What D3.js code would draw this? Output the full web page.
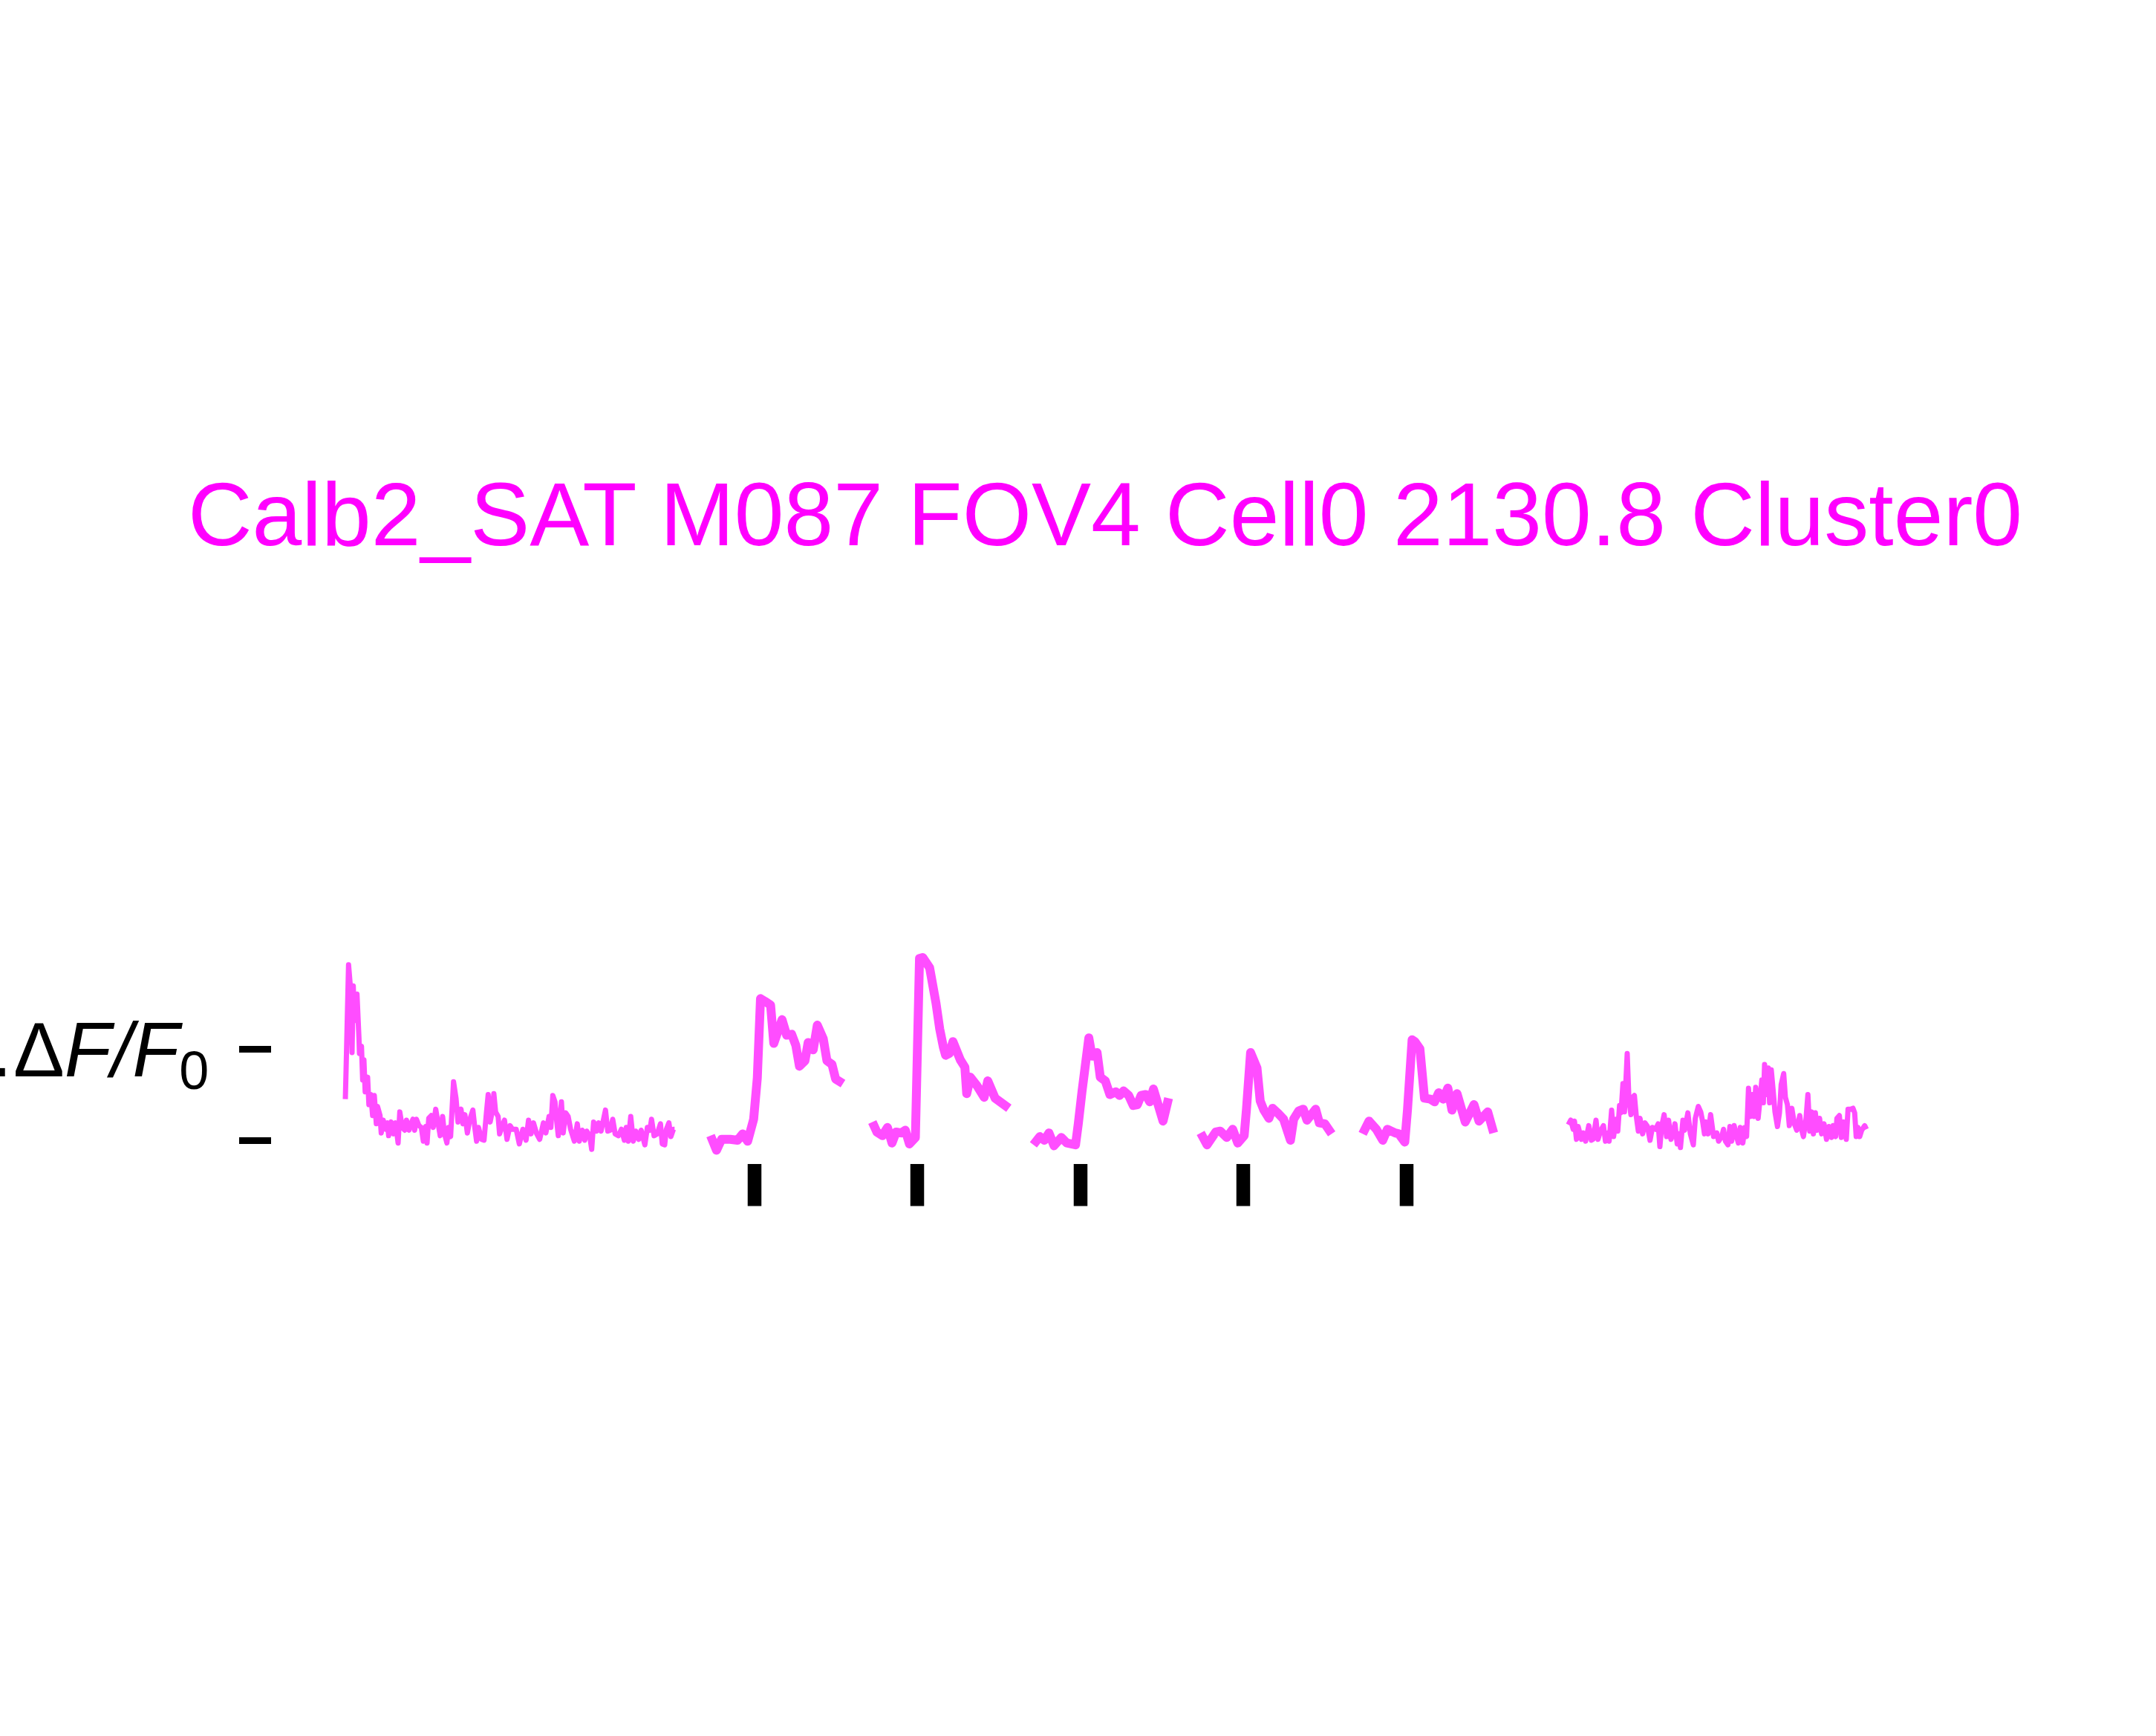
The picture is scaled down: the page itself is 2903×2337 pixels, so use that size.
<!DOCTYPE html>
<html>
<head>
<meta charset="utf-8">
<script src="https://cdn.jsdelivr.net/npm/d3@7"></script>
<style>
	body { margin: 0; background: #fff; }
	svg { display: block; font-family: "Liberation Sans", Arial, sans-serif; }
</style>
</head>
<body>
<svg id="chart" width="2903" height="2337"></svg>
<script>
// trace colour is magenta at ~70% alpha on white
const title = "Calb2_SAT M087 FOV4 Cell0 2130.8 Cluster0"

// spontaneous activity before the stimulus block, [time (s), dF/F0]
const preTrace = [
	[0.000,0.45],[0.016,0.77],[0.070,1.92],[0.125,1.59],[0.146,0.96],[0.173,1.69],[0.199,1.31],[0.254,1.60],
	[0.297,1.12],[0.308,0.95],[0.352,1.03],[0.378,0.66],[0.405,0.88],[0.433,0.53],[0.486,0.69],[0.514,0.39],
	[0.556,0.50],[0.595,0.27],[0.632,0.49],[0.676,0.18],[0.702,0.37],[0.757,0.27],[0.783,0.08],[0.827,0.22],
	[0.880,0.12],[0.919,0.19],[0.945,0.05],[1.000,0.20],[1.053,0.07],[1.097,0.19],[1.151,-0.03],[1.188,0.31],
	[1.243,0.14],[1.297,0.11],[1.334,0.22],[1.389,0.11],[1.431,0.18],[1.475,0.23],[1.512,0.11],[1.551,0.23],
	[1.605,0.16],[1.658,0.14],[1.702,-0.01],[1.755,0.15],[1.783,-0.03],[1.820,0.24],[1.875,0.27],[1.917,0.14],
	[1.972,0.34],[2.026,0.18],[2.070,0.05],[2.123,0.26],[2.160,0.08],[2.216,-0.03],[2.253,0.14],[2.297,0.04],
	[2.361,0.64],[2.415,0.46],[2.459,0.20],[2.524,0.34],[2.566,0.18],[2.609,0.28],[2.663,0.08],[2.718,0.23],
	[2.783,0.33],[2.825,0.14],[2.864,-0.01],[2.906,0.14],[2.971,0.01],[3.026,0.00],[3.079,0.30],[3.117,0.50],
	[3.160,0.20],[3.204,0.31],[3.241,0.51],[3.279,0.31],[3.334,0.26],[3.366,0.07],[3.420,0.15],[3.473,0.22],
	[3.528,0.01],[3.593,0.16],[3.647,0.12],[3.728,0.12],[3.797,-0.04],[3.873,0.12],[3.943,0.00],[3.998,0.22],
	[4.052,0.07],[4.105,0.19],[4.177,0.07],[4.241,0.01],[4.323,0.19],[4.376,0.08],[4.446,0.26],[4.485,0.14],
	[4.527,0.49],[4.575,0.42],[4.608,0.23],[4.647,0.05],[4.716,0.42],[4.754,0.08],[4.809,0.30],[4.862,0.26],
	[4.916,0.12],[4.997,-0.01],[5.062,0.18],[5.105,-0.01],[5.170,0.11],[5.224,0.00],[5.267,0.10],[5.332,0.05],
	[5.376,-0.10],[5.418,0.20],[5.483,0.10],[5.527,0.19],[5.580,0.10],[5.635,0.23],[5.677,0.33],[5.726,0.10],
	[5.781,0.11],[5.835,0.23],[5.888,0.07],[5.960,0.05],[6.024,0.12],[6.089,0.00],[6.131,0.14],[6.175,-0.01],
	[6.228,0.26],[6.284,-0.01],[6.337,0.10],[6.402,0.01],[6.455,0.11],[6.536,-0.05],[6.591,0.14],[6.645,0.11],
	[6.682,0.23],[6.737,0.05],[6.807,0.07],[6.877,0.18],[6.916,-0.04],[6.969,-0.05],[7.006,0.12],[7.061,0.19],
	[7.104,0.04],[7.159,0.12],[7.185,0.12]
]

// stimulus onsets (s) and the five evoked responses, time relative to onset
const stimOnsets = [8.930, 12.480, 16.045, 19.595, 23.160]
const stimDuration = 0.3

const trialTraces = [
	[[-0.96,0.05],[-0.83,-0.11],[-0.72,0.01],[-0.53,0.01],[-0.37,0.00],[-0.26,0.07],[-0.15,-0.01],[-0.02,0.23],
	 [0.06,0.68],[0.13,1.55],[0.23,1.52],[0.35,1.48],[0.42,1.06],[0.60,1.32],[0.70,1.15],[0.81,1.16],[0.90,1.04],
	 [0.98,0.81],[1.10,0.87],[1.17,1.07],[1.28,0.99],[1.37,1.26],[1.50,1.11],[1.58,0.87],[1.69,0.83],[1.77,0.67],[1.93,0.62]],
	[[-0.98,0.20],[-0.88,0.09],[-0.76,0.05],[-0.65,0.14],[-0.55,-0.03],[-0.46,0.09],[-0.35,0.08],[-0.26,0.11],
	 [-0.17,-0.04],[-0.04,0.03],[0.05,1.99],[0.12,2.00],[0.27,1.89],[0.41,1.50],[0.49,1.22],[0.57,1.02],[0.62,0.93],
	 [0.70,0.95],[0.78,1.08],[0.94,0.88],[1.04,0.80],[1.08,0.51],[1.16,0.69],[1.30,0.60],[1.46,0.47],[1.54,0.65],
	 [1.70,0.46],[2.00,0.35]],
	[[-1.03,-0.05],[-0.89,0.04],[-0.79,0.00],[-0.69,0.08],[-0.58,-0.06],[-0.42,0.03],[-0.30,-0.03],[-0.11,-0.05],
	 [-0.05,0.18],[0.03,0.53],[0.18,1.12],[0.25,0.92],[0.36,0.96],[0.43,0.69],[0.54,0.65],[0.64,0.50],[0.77,0.53],
	 [0.85,0.49],[0.94,0.54],[1.05,0.49],[1.15,0.38],[1.24,0.39],[1.32,0.49],[1.42,0.50],[1.51,0.42],[1.59,0.56],
	 [1.80,0.21],[1.92,0.46]],
	[[-0.93,0.08],[-0.79,-0.05],[-0.60,0.09],[-0.50,0.10],[-0.36,0.03],[-0.23,0.12],[-0.12,-0.03],[0.02,0.05],
	 [0.07,0.34],[0.16,0.96],[0.30,0.79],[0.37,0.43],[0.45,0.33],[0.56,0.24],[0.64,0.35],[0.75,0.30],[0.88,0.23],
	 [1.03,0.00],[1.10,0.23],[1.21,0.32],[1.31,0.34],[1.39,0.22],[1.58,0.34],[1.66,0.19],[1.78,0.18],[1.93,0.07]],
	[[-0.96,0.07],[-0.82,0.21],[-0.66,0.12],[-0.52,0.00],[-0.42,0.12],[-0.25,0.08],[-0.17,0.07],[-0.04,-0.02],
	 [0.02,0.34],[0.12,1.10],[0.18,1.08],[0.29,1.00],[0.39,0.46],[0.52,0.45],[0.61,0.42],[0.70,0.52],[0.80,0.45],
	 [0.90,0.57],[0.99,0.33],[1.10,0.51],[1.28,0.20],[1.47,0.39],[1.58,0.21],[1.77,0.31],[1.90,0.08]]
]

// spontaneous activity after the stimulus block
const postTrace = [
	[26.689,0.17],[26.742,0.22],[26.796,0.12],[26.823,0.21],[26.867,0.01],[26.904,0.15],[26.974,0.01],[27.013,0.08],
	[27.066,-0.01],[27.136,0.16],[27.191,0.00],[27.228,0.01],[27.293,0.22],[27.337,0.01],[27.390,0.10],[27.455,0.16],
	[27.499,-0.01],[27.553,0.08],[27.580,-0.01],[27.634,0.33],[27.677,0.04],[27.731,0.23],[27.768,0.10],[27.807,0.38],
	[27.839,0.30],[27.881,0.62],[27.914,0.31],[27.974,0.95],[28.011,0.45],[28.055,0.28],[28.092,0.47],[28.131,0.49],
	[28.173,0.26],[28.217,0.10],[28.254,0.24],[28.310,0.07],[28.363,0.19],[28.417,0.15],[28.472,0.00],[28.525,0.14],
	[28.595,0.12],[28.650,0.18],[28.687,-0.07],[28.725,0.15],[28.780,0.28],[28.833,0.04],[28.877,0.22],[28.930,0.01],
	[28.974,0.07],[29.016,0.18],[29.065,-0.04],[29.104,0.07],[29.136,-0.08],[29.190,0.22],[29.227,0.11],[29.298,0.30],
	[29.352,0.07],[29.417,-0.05],[29.460,0.24],[29.525,0.37],[29.579,0.31],[29.622,0.20],[29.660,0.07],[29.697,0.20],
	[29.741,0.07],[29.794,0.28],[29.859,0.04],[29.930,0.08],[29.968,-0.01],[30.037,0.04],[30.076,0.12],[30.118,-0.01],
	[30.173,-0.05],[30.215,0.15],[30.254,-0.01],[30.308,0.16],[30.361,0.04],[30.400,-0.03],[30.442,0.14],[30.497,-0.03],
	[30.540,0.14],[30.579,0.04],[30.621,0.57],[30.660,0.26],[30.702,0.50],[30.741,0.26],[30.778,0.58],[30.831,0.24],
	[30.875,0.46],[30.912,0.66],[30.945,0.41],[30.972,0.83],[31.010,0.50],[31.053,0.79],[31.081,0.41],[31.118,0.77],
	[31.156,0.56],[31.199,0.31],[31.253,0.15],[31.297,0.30],[31.334,0.61],[31.389,0.73],[31.426,0.47],[31.470,0.39],
	[31.512,0.16],[31.567,0.35],[31.621,0.18],[31.674,0.11],[31.739,0.27],[31.783,0.11],[31.820,0.04],[31.875,0.23],
	[31.917,0.50],[31.956,0.10],[31.998,0.31],[32.037,0.07],[32.080,0.30],[32.118,0.11],[32.172,0.24],[32.216,0.07],
	[32.269,0.18],[32.323,0.01],[32.378,0.15],[32.431,0.03],[32.468,0.16],[32.524,0.04],[32.550,0.24],[32.604,0.27],
	[32.647,0.03],[32.702,0.20],[32.755,0.01],[32.793,0.34],[32.848,0.34],[32.901,0.35],[32.938,0.30],[32.971,0.04],
	[33.010,0.14],[33.047,0.04],[33.091,0.11],[33.156,0.16],[33.193,0.12]
]

const scaleTicks = [0, 1]

const traceColor = "#ff4dff"
const svg = d3.select("#chart")

const x = d3.scaleLinear().domain([0, 33.2]).range([465, 465 + 33.2 * 61.7])
const y = d3.scaleLinear().domain([0, 1]).range([1535, 1412])

const line = d3.line()
	.x(d => x(d[0]))
	.y(d => y(d[1]))

svg.append("text")
	.attr("x", 1488)
	.attr("y", 734)
	.attr("text-anchor", "middle")
	.attr("font-size", 120)
	.attr("fill", "#ff00ff")
	.text(title)

// spontaneous segments drawn thinner than the trial responses
svg.selectAll("path.spont")
	.data([preTrace, postTrace])
	.join("path")
		.classed("spont", true)
		.attr("d", line)
		.attr("fill", "none")
		.attr("stroke", traceColor)
		.attr("stroke-width", 7)
		.attr("stroke-linejoin", "round")
		.attr("stroke-linecap", "butt")

svg.selectAll("path.trial")
	.data(trialTraces)
	.join("path")
		.classed("trial", true)
		.attr("d", (tr, i) => line(tr.map(d => [d[0] + stimOnsets[i], d[1]])))
		.attr("fill", "none")
		.attr("stroke", traceColor)
		.attr("stroke-width", 12)
		.attr("stroke-linejoin", "round")
		.attr("stroke-linecap", "butt")

// stimulus markers under each trial
svg.selectAll("rect.stim")
	.data(stimOnsets)
	.join("rect")
		.classed("stim", true)
		.attr("x", d => x(d - stimDuration / 2))
		.attr("width", d => x(d + stimDuration / 2) - x(d - stimDuration / 2))
		.attr("y", y(-0.26))
		.attr("height", y(-0.72) - y(-0.26))
		.attr("fill", "#000")

// scale bar: two bare ticks with the unit label on the upper one
const axis = svg.append("g")
	.attr("transform", "translate(365,0)")
	.call(d3.axisLeft(y).tickValues(scaleTicks).tickSize(43).tickFormat(""))
axis.select(".domain").remove()
axis.selectAll(".tick line").attr("stroke", "#000").attr("stroke-width", 9)

const label = svg.append("text")
	.attr("x", 18)
	.attr("y", y(1) + 37)
	.attr("font-size", 103)
	.attr("fill", "#000")
label.append("tspan").text("\u0394")
label.append("tspan").attr("font-style", "italic").text("F")
label.append("tspan").attr("font-style", "italic").text("/")
label.append("tspan").attr("font-style", "italic").text("F")
label.append("tspan").attr("font-size", 72).attr("dy", 17).text("0")

// leading "1." of the label runs off the left edge, as in the original figure
svg.append("text")
	.attr("x", 16)
	.attr("y", y(1) + 37)
	.attr("text-anchor", "end")
	.attr("font-size", 103)
	.attr("fill", "#000")
	.text("1.")
</script>
</body>
</html>
